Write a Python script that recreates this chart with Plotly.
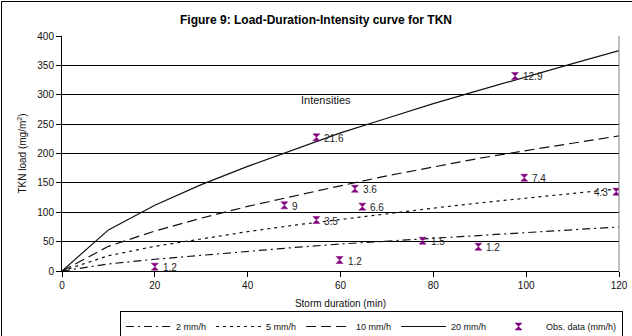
import plotly.graph_objects as go

# Load-duration-intensity curves for TKN (load in mg/m2 vs storm duration)
durations = [0, 10, 20, 30, 40, 50, 60, 70, 80, 90, 100, 110, 120]
load_2mmh = [0, 12, 20, 27, 34, 40, 46, 51, 56, 61, 66, 71, 75]
load_5mmh = [0, 26, 42, 55, 67, 78, 88, 98, 107, 116, 124, 132, 140]
load_10mmh = [0, 42, 68, 90, 110, 128, 145, 162, 177, 192, 205, 218, 230]
load_20mmh = [0, 70, 112, 147, 178, 207, 235, 260, 285, 308, 331, 353, 375]

# Observed events: duration (min), load (mg/m2), intensity label (mm/h)
obs_duration = [20, 47.9, 54.8, 54.8, 59.8, 63.1, 64.7, 77.7, 89.7, 97.6, 99.6, 119.4]
obs_load = [7.4, 111.8, 86.8, 227.5, 18.7, 140, 109.5, 51.6, 41.4, 332, 158.8, 135]
obs_label = ["1.2", "9", "3.5", "21.6", "1.2", "3.6", "6.6", "1.5", "1.2", "12.9", "7.4", "4.3"]

x_ticks = [0, 20, 40, 60, 80, 100, 120]
y_ticks = [0, 50, 100, 150, 200, 250, 300, 350, 400]

FONT = "Liberation Sans, Arial, sans-serif"
W, H = 632, 336
L, R, T, B = 62, 13, 36, 65
pw, ph = W - L - R, H - T - B


def px_to_paper(px, py):
    return (px - L) / pw, (H - B - py) / ph


fig = go.Figure()

curves = [
    ("2 mm/h", load_2mmh, "8px,4px,2px,4px"),
    ("5 mm/h", load_5mmh, "3px,4px"),
    ("10 mm/h", load_10mmh, "10px,5px"),
    ("20 mm/h", load_20mmh, "solid"),
]
for name, ys, dash in curves:
    fig.add_trace(go.Scatter(
        x=durations, y=ys, mode="lines", name=name,
        line=dict(color="#111111", width=1.2, dash=dash),
    ))

fig.add_trace(go.Scatter(
    x=obs_duration, y=obs_load, mode="markers", name="Obs. data (mm/h)",
    marker=dict(symbol="hourglass", size=7, color="#800080",
                line=dict(color="#800080", width=0.5)),
))

# Intensity labels beside each observed point
for xd, yd, lab in zip(obs_duration, obs_load, obs_label):
    left = xd >= 119
    fig.add_annotation(
        x=xd, y=yd, text=lab, showarrow=False,
        xanchor="right" if left else "left",
        xshift=-6 if left else 6, yshift=-1,
        font=dict(family=FONT, size=10, color="#222222"),
    )

fig.add_annotation(x=56.9, y=291, text="Intensities", showarrow=False,
                   font=dict(family=FONT, size=11, color="#111111"))

# Chart title, centred on the whole figure
tx, ty = px_to_paper(316, 20)
fig.add_annotation(xref="paper", yref="paper", x=tx, y=ty,
                   text="<b>Figure 9: Load-Duration-Intensity curve for TKN</b>",
                   showarrow=False, xanchor="center", yanchor="middle",
                   font=dict(family=FONT, size=12, color="#000000"))

# Right edge of plot area and outer chart frame
fig.add_shape(type="line", xref="paper", yref="paper", x0=1, x1=1, y0=0, y1=1,
              line=dict(color="#808080", width=1))
fx0, fy0 = px_to_paper(1.5, 1.5)
fx1, fy1 = px_to_paper(700, 400)
fig.add_shape(type="line", xref="paper", yref="paper", x0=fx0, x1=fx0, y0=fy0, y1=fy1,
              line=dict(color="#000000", width=1))
fig.add_shape(type="line", xref="paper", yref="paper", x0=fx0, x1=fx1, y0=fy0, y1=fy0,
              line=dict(color="#000000", width=1))

lx, ly = px_to_paper(120, 311)
fig.update_layout(
    width=W, height=H,
    margin=dict(l=L, r=R, t=T, b=B, autoexpand=False),
    paper_bgcolor="white", plot_bgcolor="white",
    font=dict(family=FONT, size=10, color="#111111"),
    showlegend=True,
    legend=dict(orientation="h", x=lx, y=ly, xanchor="left", yanchor="top",
                bordercolor="#000000", borderwidth=1, bgcolor="white",
                font=dict(family=FONT, size=9, color="#111111"),
                itemwidth=45, tracegroupgap=0),
    xaxis=dict(range=[0, 120], tickvals=x_ticks, showgrid=False, zeroline=False,
               automargin=False,
               showline=True, linecolor="#000000", linewidth=1,
               ticks="outside", ticklen=5, tickcolor="#000000",
               tickfont=dict(family=FONT, size=10),
               title=dict(text="Storm duration (min)", font=dict(family=FONT, size=10),
                          standoff=9)),
    yaxis=dict(range=[0, 400], tickvals=y_ticks, showgrid=True, gridcolor="#000000",
               automargin=False,
               gridwidth=1, zeroline=False, showline=True, linecolor="#000000",
               linewidth=1, ticks="outside", ticklen=5, tickcolor="#000000",
               tickfont=dict(family=FONT, size=10),
               title=dict(text="TKN load (mg/m<sup>2</sup>)", font=dict(family=FONT, size=10),
                          standoff=8)),
)

fig.write_html("out.html")
